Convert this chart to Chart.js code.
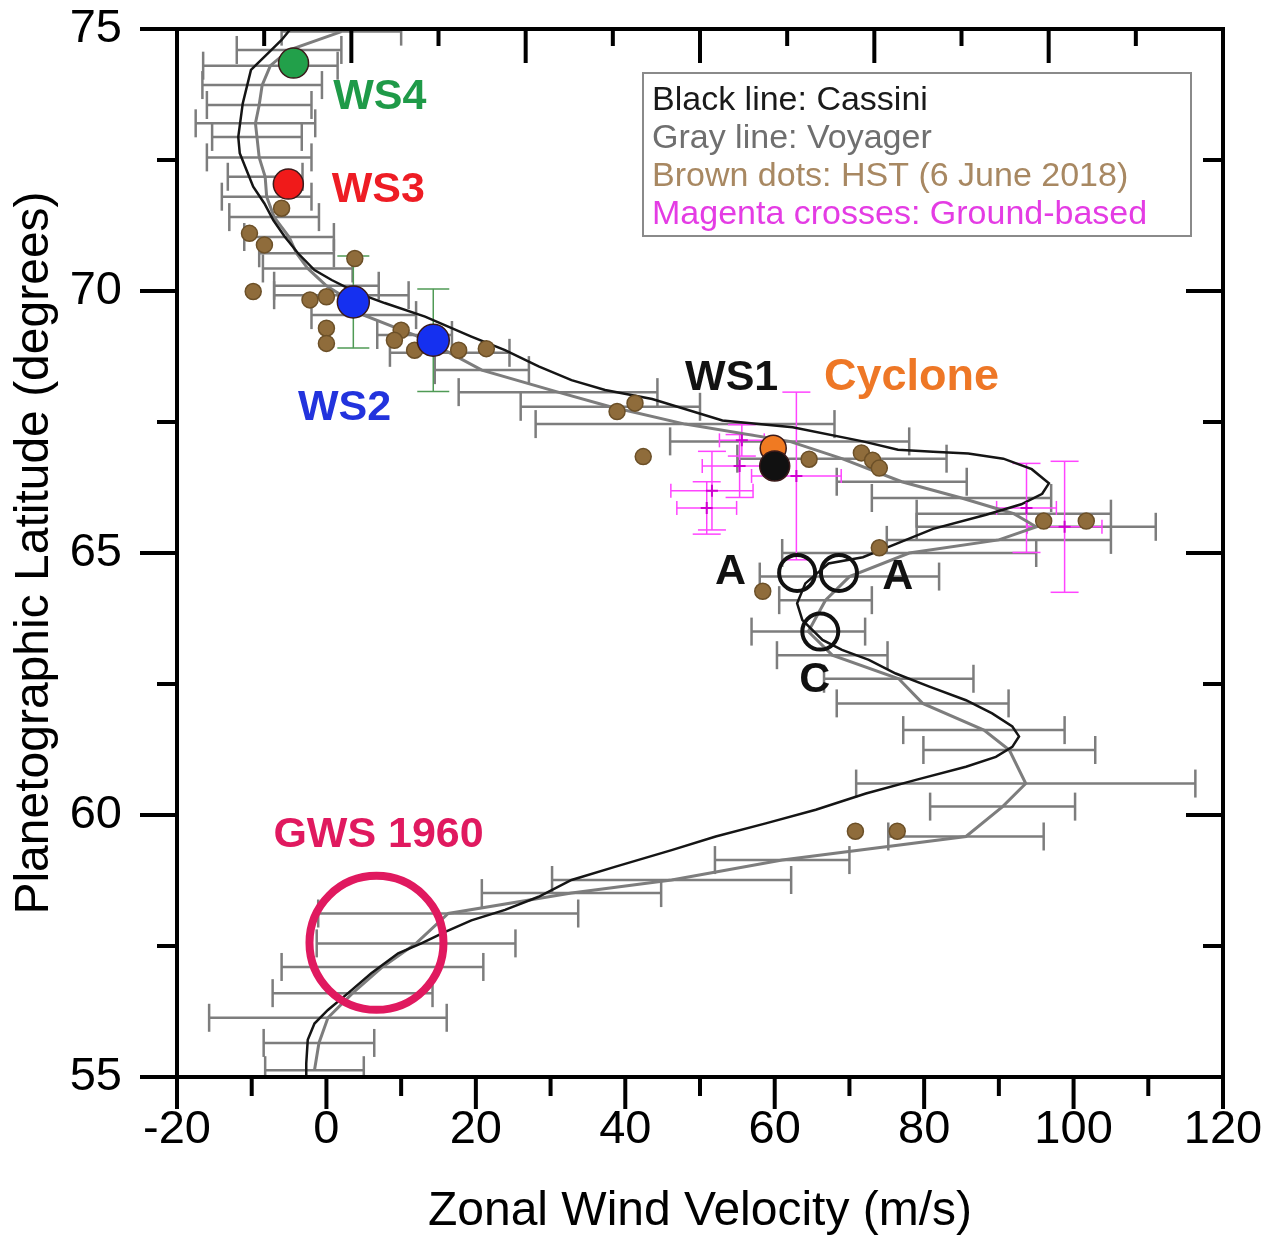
<!DOCTYPE html>
<html>
<head>
<meta charset="utf-8">
<script src="https://cdn.jsdelivr.net/npm/chart.js@4.4.0/dist/chart.umd.min.js"></script>
<style>
  body { margin: 0; background: #fff; }
</style>
</head>
<body>
<canvas id="mycanvas" width="1264" height="1237"></canvas>
<script>
// ---- data ----
var xTickValues = [-20, 0, 20, 40, 60, 80, 100, 120];
var yTickValues = [55, 60, 65, 70, 75];

// Cassini profile (black line)
var cassiniLat = [75.0, 74.79, 74.54, 74.22, 73.58, 72.94, 72.63, 72.31, 71.99, 71.67, 71.35, 71.04, 70.72, 70.40, 70.21, 69.96, 69.77, 69.51, 69.13, 68.87, 68.56, 68.30, 68.11, 67.94, 67.53, 67.40, 67.13, 66.97, 66.93, 66.90, 66.80, 66.60, 66.33, 66.13, 65.93, 65.73, 65.46, 65.19, 64.92, 64.80, 64.42, 64.04, 63.72, 63.34, 63.15, 62.96, 62.70, 62.45, 62.19, 61.94, 61.69, 61.50, 61.30, 61.11, 60.92, 60.67, 60.41, 60.10, 59.84, 59.59, 59.33, 59.01, 58.76, 58.44, 58.19, 57.99, 57.77, 57.55, 57.36, 56.98, 56.60, 56.28, 56.02, 55.71, 55.26, 55.0];
var cassiniU = [-4.8, -6.0, -7.8, -10.1, -11.2, -11.8, -11.6, -10.7, -9.8, -8.3, -7.1, -5.6, -3.8, -1.6, 0.7, 4.2, 7.8, 13.2, 19.4, 23.9, 28.4, 32.8, 37.3, 43.6, 53.0, 62.4, 71.8, 76.5, 81.2, 85.9, 90.6, 94.4, 96.7, 95.8, 93.0, 88.3, 81.2, 76.5, 71.8, 67.2, 64.1, 63.0, 63.7, 66.4, 69.0, 72.6, 76.2, 80.7, 85.6, 89.1, 91.8, 92.7, 91.8, 89.6, 85.6, 78.9, 72.2, 65.5, 58.8, 52.1, 46.2, 38.6, 32.8, 28.4, 23.9, 19.4, 15.9, 12.7, 9.6, 6.0, 2.9, 0.2, -1.6, -2.5, -2.7, -2.7];

// Voyager profile (gray line) with its error half-widths
var voyagerLat = [74.95, 74.6, 74.3, 73.93, 73.55, 73.2, 72.94, 72.55, 72.18, 71.8, 71.41, 71.03, 70.72, 70.43, 70.1, 69.92, 69.54, 69.16, 68.82, 68.49, 68.07, 67.79, 67.46, 67.13, 66.8, 66.36, 66.05, 65.75, 65.5, 65.25, 65.0, 64.55, 64.1, 63.5, 63.05, 62.6, 62.13, 61.62, 61.24, 60.6, 60.16, 59.59, 59.14, 58.76, 58.51, 58.12, 57.55, 57.1, 56.6, 56.13, 55.65, 55.13];
var voyagerU = [2, -5, -7.5, -8.6, -9.0, -9.5, -9.3, -9.0, -8.2, -8.0, -7.0, -5.0, -4.0, -2.5, 0, 2.0, 5.0, 11.8, 16.5, 20.8, 31.0, 38.0, 48.0, 62.0, 69.0, 77.0, 85.0, 92.0, 95.0, 90.0, 78.0, 70.0, 66.8, 64.5, 67.7, 76.6, 79.8, 88.0, 91.4, 93.6, 90.5, 85.6, 61.0, 46.2, 32.8, 16.3, 12.0, 7.5, 3.5, 0.2, -1.0, -1.6];
var voyagerErr = [8, 7, 9, 8, 7, 8, 6, 7, 5, 6, 6, 6, 5, 6, 7, 9, 7, 5, 8, 6.3, 13.3, 12, 20, 16, 14, 8.7, 12, 13, 16, 15, 17, 12, 6.2, 7.6, 7.4, 10, 11.5, 10.8, 11.5, 22.7, 9.7, 10.4, 9, 16, 12, 17.4, 13.3, 13.5, 10.7, 15.9, 7.4, 6.6];

// HST dots (6 June 2018)
var hstLat = [71.58, 71.10, 70.88, 70.62, 69.99, 69.83, 69.89, 69.29, 69.00, 69.25, 69.06, 68.87, 68.87, 68.90, 67.70, 67.86, 66.84, 66.79, 66.91, 66.77, 66.62, 65.61, 65.61, 65.10, 64.27, 59.69, 59.69];
var hstU = [-6.0, -10.3, -8.3, 3.8, -9.8, -2.2, 0.0, 0.0, 0.0, 10.0, 9.1, 11.8, 17.7, 21.4, 38.9, 41.3, 42.4, 64.6, 71.6, 73.1, 74.0, 96.0, 101.7, 74.0, 58.4, 70.8, 76.4];

// Ground-based crosses
var groundLat = [67.15, 66.66, 66.19, 65.86, 66.47, 65.86, 65.50];
var groundU = [55.6, 55.3, 51.6, 50.9, 62.9, 93.7, 98.8];
var groundUErr = [3, 5, 5.5, 4, 6, 4, 5];
var groundLatErr = [0.3, 0.6, 0.75, 0.5, 1.6, 0.85, 1.25];

// Storms (WS = white spot)
var stormNames = ["WS4", "WS3", "WS2", "WS2", "Cyclone", "WS1"];
var stormU = [-4.4, -5.1, 3.6, 14.3, 59.8, 60.0];
var stormLat = [74.35, 72.04, 69.79, 69.06, 67.0, 66.66];
var ws2LatErr = [0.88, 0.98];

// Marked features (open circles)
var ringNames = ["A", "A", "C", "GWS 1960"];
var ringU = [63.0, 68.6, 66.1, 6.7];
var ringLat = [64.62, 64.62, 63.5, 57.56];

// ---- styling ----
var stormColor = { "WS4": "#22a04a", "WS3": "#f01a1a", "WS2": "#1530f0", "WS1": "#111111", "Cyclone": "#f07a22" };
var textColor = { "WS4": "#1f9a48", "WS3": "#ee1c24", "WS2": "#2233dd", "WS1": "#111111", "Cyclone": "#ee7726", "A": "#111111", "C": "#111111", "GWS 1960": "#e0195f" };
var notes = [
  { text: "WS4", u: 0.9, lat: 73.70 },
  { text: "WS3", u: 0.7, lat: 71.93 },
  { text: "WS2", u: -3.8, lat: 67.77 },
  { text: "WS1", u: 48.0, lat: 68.34 },
  { text: "Cyclone", u: 66.6, lat: 68.34 },
  { text: "A", u: 52.0, lat: 64.64 },
  { text: "A", u: 74.4, lat: 64.54 },
  { text: "C", u: 63.3, lat: 62.58 },
  { text: "GWS 1960", u: -7.1, lat: 59.62 }
];

Chart.defaults.font.family = "'Liberation Sans', Arial, sans-serif";
Chart.defaults.color = "#000";

function pts(us, lats) {
  var out = [];
  for (var i = 0; i < us.length; i++) out.push({ x: us[i], y: lats[i] });
  return out;
}

function seg(c, x1, y1, x2, y2) {
  c.beginPath(); c.moveTo(x1, y1); c.lineTo(x2, y2); c.stroke();
}

// keep the tick labels from pushing the plot area around
function noPad(s) {
  s.paddingTop = 0; s.paddingBottom = 0; s.paddingLeft = 0; s.paddingRight = 0;
}

var errorBars = {
  id: "errorBars",
  beforeDatasetsDraw: function(chart) {
    var c = chart.ctx, xs = chart.scales.x, ys = chart.scales.y, a = chart.chartArea;
    c.save();
    c.beginPath(); c.rect(a.left, a.top, a.width, a.height); c.clip();
    // Voyager
    c.strokeStyle = "#7d7d7d"; c.lineWidth = 2.5;
    for (var i = 0; i < voyagerLat.length; i++) {
      var py = ys.getPixelForValue(voyagerLat[i]);
      var x1 = xs.getPixelForValue(voyagerU[i] - voyagerErr[i]);
      var x2 = xs.getPixelForValue(voyagerU[i] + voyagerErr[i]);
      seg(c, x1, py, x2, py);
      seg(c, x1, py - 14, x1, py + 14);
      seg(c, x2, py - 14, x2, py + 14);
    }
    // ground-based
    c.strokeStyle = "#ff44ff"; c.lineWidth = 1.5;
    for (var j = 0; j < groundLat.length; j++) {
      var cx = xs.getPixelForValue(groundU[j]), cy = ys.getPixelForValue(groundLat[j]);
      var l = xs.getPixelForValue(groundU[j] - groundUErr[j]), r = xs.getPixelForValue(groundU[j] + groundUErr[j]);
      var t = ys.getPixelForValue(groundLat[j] + groundLatErr[j]), b = ys.getPixelForValue(groundLat[j] - groundLatErr[j]);
      seg(c, l, cy, r, cy); seg(c, l, cy - 7, l, cy + 7); seg(c, r, cy - 7, r, cy + 7);
      seg(c, cx, t, cx, b); seg(c, cx - 14, t, cx + 14, t); seg(c, cx - 14, b, cx + 14, b);
    }
    // WS2 vertical bars
    c.strokeStyle = "#4f9a55"; c.lineWidth = 1.5;
    var k = 0;
    for (var s = 0; s < stormNames.length; s++) {
      if (stormNames[s] !== "WS2") continue;
      var sx = xs.getPixelForValue(stormU[s]);
      var st = ys.getPixelForValue(stormLat[s] + ws2LatErr[k]), sb = ys.getPixelForValue(stormLat[s] - ws2LatErr[k]);
      seg(c, sx, st, sx, sb); seg(c, sx - 16, st, sx + 16, st); seg(c, sx - 16, sb, sx + 16, sb);
      k++;
    }
    c.restore();
  },
  afterDatasetsDraw: function(chart) {
    var c = chart.ctx, xs = chart.scales.x, ys = chart.scales.y;
    c.save();
    c.textBaseline = "middle"; c.textAlign = "left";
    notes.forEach(function(n) {
      c.font = (n.text === "Cyclone" ? "bold 45px" : "bold 43px") + " 'Liberation Sans', Arial, sans-serif";
      c.fillStyle = textColor[n.text];
      c.fillText(n.text, xs.getPixelForValue(n.u), ys.getPixelForValue(n.lat));
    });
    c.restore();
  }
};

var frame = {
  id: "frame",
  afterDraw: function(chart) {
    var c = chart.ctx, a = chart.chartArea, xs = chart.scales.x, ys = chart.scales.y;
    c.save();
    c.strokeStyle = "#000"; c.lineWidth = 4; c.lineCap = "butt";
    c.strokeRect(a.left, a.top, a.width, a.height);
    var v, px, py, len;
    for (v = -20; v <= 120; v += 10) {
      px = xs.getPixelForValue(v); len = (v % 20 === 0) ? 32 : 19;
      seg(c, px, a.bottom, px, a.bottom + len);
    }
    for (var k = 0; k <= 12; k++) {
      px = xs.getPixelForValue(-20 + k * 140 / 12); len = (k % 2 === 0) ? 34 : 17;
      seg(c, px, a.top, px, a.top + len);
    }
    for (v = 55; v <= 75; v += 2.5) {
      py = ys.getPixelForValue(v); len = (v % 5 === 0) ? 37 : 20;
      seg(c, a.left - len, py, a.left, py);
      seg(c, a.right - len, py, a.right, py);
    }
    // legend box
    var lx = 643, ly = 73, lw = 548, lh = 163;
    c.lineWidth = 2; c.strokeStyle = "#8a8a8a";
    c.strokeRect(lx, ly, lw, lh);
    c.font = "34px 'Liberation Sans', Arial, sans-serif";
    c.textBaseline = "middle"; c.textAlign = "left";
    var legendText = ["Black line: Cassini", "Gray line: Voyager", "Brown dots: HST (6 June 2018)", "Magenta crosses: Ground-based"];
    var legendColor = ["#1a1a1a", "#6f6f6f", "#a88862", "#e43ce4"];
    for (var i = 0; i < legendText.length; i++) {
      c.fillStyle = legendColor[i];
      c.fillText(legendText[i], lx + 9, ly + 28 + i * 37.8);
    }
    c.restore();
  }
};

var ctx = document.getElementById("mycanvas");

var chart = new Chart(ctx, {
  type: "scatter",
  data: {
    datasets: [
      {
        label: "Rings",
        data: pts(ringU, ringLat),
        pointRadius: ringNames.map(function(n) { return n === "GWS 1960" ? 67 : 18; }),
        pointBorderWidth: ringNames.map(function(n) { return n === "GWS 1960" ? 8 : 4; }),
        pointBorderColor: ringNames.map(function(n) { return n === "GWS 1960" ? "#e0195f" : "#111"; }),
        pointBackgroundColor: "rgba(0,0,0,0)",
        order: 0
      },
      {
        label: "Storms",
        data: pts(stormU, stormLat),
        pointRadius: stormNames.map(function(n) { return n === "WS2" ? 16 : (n === "Cyclone" ? 13 : 15); }),
        pointBackgroundColor: stormNames.map(function(n) { return stormColor[n]; }),
        pointBorderColor: "#3a1a1a",
        pointBorderWidth: 1.5,
        order: 1
      },
      {
        label: "Ground-based",
        data: pts(groundU, groundLat),
        pointStyle: "cross",
        pointRadius: 6,
        pointBorderColor: "#d000d0",
        pointBorderWidth: 2,
        order: 2
      },
      {
        label: "HST",
        data: pts(hstU, hstLat),
        pointRadius: 8,
        pointBackgroundColor: "#8f6c3b",
        pointBorderColor: "#6c5028",
        pointBorderWidth: 1.5,
        order: 2
      },
      {
        label: "Cassini",
        data: pts(cassiniU, cassiniLat),
        showLine: true,
        borderColor: "#151515",
        borderWidth: 2.5,
        pointRadius: 0,
        order: 3
      },
      {
        label: "Voyager",
        data: pts(voyagerU, voyagerLat),
        showLine: true,
        borderColor: "#7d7d7d",
        borderWidth: 3,
        pointRadius: 0,
        order: 4
      }
    ]
  },
  options: {
    responsive: false,
    animation: false,
    events: [],
    layout: { autoPadding: false, padding: { top: 29, right: 41, left: 0, bottom: 0 } },
    plugins: { legend: { display: false }, tooltip: { enabled: false } },
    scales: {
      x: {
        type: "linear", position: "bottom", min: -20, max: 120,
        grid: { display: false, drawTicks: false },
        border: { display: false },
        afterBuildTicks: function(s) { s.ticks = xTickValues.map(function(v) { return { value: v }; }); },
        afterFit: function(s) { s.height = 160; noPad(s); },
        ticks: { font: { size: 47 }, color: "#000", padding: 25, maxRotation: 0, autoSkip: false },
        title: { display: true, text: "Zonal Wind Velocity (m/s)", font: { size: 48 }, color: "#000", padding: { top: 0, bottom: -4 } }
      },
      y: {
        type: "linear", position: "left", min: 55, max: 75,
        grid: { display: false, drawTicks: false },
        border: { display: false },
        afterBuildTicks: function(s) { s.ticks = yTickValues.map(function(v) { return { value: v }; }); },
        afterFit: function(s) { s.width = 177; noPad(s); },
        ticks: { font: { size: 47 }, color: "#000", padding: 55 },
        title: { display: true, text: "Planetographic Latitude (degrees)", font: { size: 48 }, color: "#000", padding: { top: 6, bottom: 0 } }
      }
    }
  },
  plugins: [errorBars, frame]
});
</script>
</body>
</html>
